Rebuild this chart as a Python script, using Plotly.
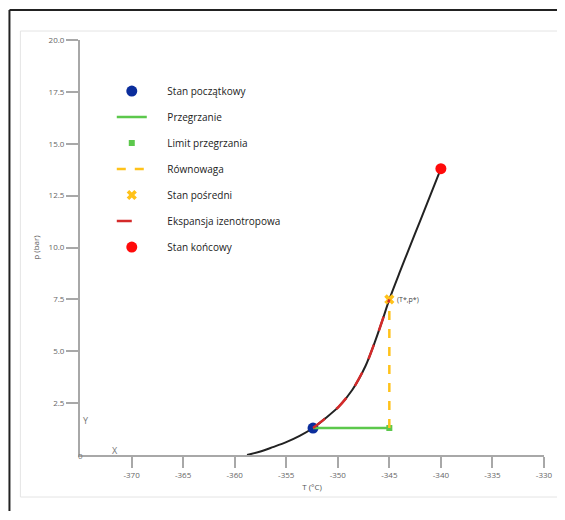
import plotly.graph_objects as go

# Saturation / process curve (T in °C, p in bar)
curve_T = [-358.8, -357.5, -356.3, -355.0, -353.7, -352.4, -351.2, -349.9, -348.6,
           -347.3, -346.4, -345.7, -345.0, -344.0, -343.0, -342.0, -341.0, -340.0]
curve_p = [0.0, 0.17, 0.38, 0.62, 0.92, 1.3, 1.77, 2.33, 3.13,
           4.3, 5.45, 6.45, 7.5, 8.8, 10.05, 11.3, 12.55, 13.8]

# Isentropic expansion section
exp_T = [-352.4, -351.2, -349.9, -348.6, -347.3, -346.4, -345.7, -345.0]
exp_p = [1.3, 1.77, 2.33, 3.13, 4.3, 5.45, 6.45, 7.5]

start_T, start_p = [-352.4], [1.3]
superheat_T, superheat_p = [-352.4, -345.0], [1.3, 1.3]
limit_T, limit_p = [-345.0], [1.3]
equil_T, equil_p = [-345.0, -345.0], [1.3, 7.5]
inter_T, inter_p = [-345.0], [7.5]
final_T, final_p = [-340.0], [13.8]

x_ticks = [-370, -365, -360, -355, -350, -345, -340, -335, -330]
x_ticktext = ["-370", "-365", "-360", "-355", "-350", "-345", "-340", "-335", "-330"]
y_ticks = [2.5, 5.0, 7.5, 10.0, 12.5, 15.0, 17.5, 20.0]
y_ticktext = ["2.5", "5.0", "7.5", "10.0", "12.5", "15.0", "17.5", "20.0"]

PAD = "\u00a0" * 6

fig = go.Figure()
fig.add_trace(go.Scatter(x=curve_T, y=curve_p, mode="lines",
                         line=dict(color="#222222", width=2, shape="spline", smoothing=0.8),
                         showlegend=False, hoverinfo="skip"))
fig.add_trace(go.Scatter(x=start_T, y=start_p, mode="markers", name=PAD + "Stan początkowy",
                         marker=dict(color="#0b2d9c", size=11), legendgroup="a"))
fig.add_trace(go.Scatter(x=superheat_T, y=superheat_p, mode="lines", name=PAD + "Przegrzanie",
                         line=dict(color="#5cc84c", width=2.5), legendgroup="b"))
fig.add_trace(go.Scatter(x=limit_T, y=limit_p, mode="markers", name=PAD + "Limit przegrzania",
                         marker=dict(color="#5cc84c", size=6, symbol="square"), legendgroup="c"))
fig.add_trace(go.Scatter(x=equil_T, y=equil_p, mode="lines", name=PAD + "Równowaga",
                         line=dict(color="#ffc21a", width=2.5, dash="dash"), legendgroup="d"))
fig.add_trace(go.Scatter(x=inter_T, y=inter_p, mode="markers", name=PAD + "Stan pośredni",
                         marker=dict(color="#ffc21a", size=9, symbol="x"), legendgroup="e"))
fig.add_trace(go.Scatter(x=exp_T, y=exp_p, mode="lines", name=PAD + "Ekspansja izenotropowa",
                         line=dict(color="#d42a2a", width=2.5, dash="longdash", shape="spline", smoothing=0.8),
                         legendgroup="f"))
fig.add_trace(go.Scatter(x=final_T, y=final_p, mode="markers", name=PAD + "Stan końcowy",
                         marker=dict(color="#ff0a0a", size=11), legendgroup="g"))

axis_gray = "#a8a8a8"
fig.update_layout(
    width=557, height=503, autosize=False,
    margin=dict(l=72, r=18, t=32, b=56),
    paper_bgcolor="white", plot_bgcolor="white",
    font=dict(family="Open Sans", size=8, color="#666666"),
    xaxis=dict(range=[-375, -330], tickvals=x_ticks, ticktext=x_ticktext, showgrid=False, zeroline=False,
               showline=True, linecolor=axis_gray, linewidth=2, ticks="outside", ticklen=11,
               tickcolor=axis_gray, tickwidth=2, tickfont=dict(size=8, color="#666666"),
               title=dict(text="T (°C)", font=dict(size=8, color="#555555"), standoff=6)),
    yaxis=dict(range=[0, 20], tickvals=y_ticks, ticktext=y_ticktext, showgrid=False, zeroline=False,
               showline=True, linecolor=axis_gray, linewidth=2, ticks="outside", ticklen=12,
               tickcolor=axis_gray, tickwidth=2, tickfont=dict(size=8, color="#666666"),
               title=dict(text="p (bar)", font=dict(size=8, color="#555555"), standoff=8)),
    legend=dict(x=0.0685, y=0.912, xanchor="left", yanchor="top", bgcolor="rgba(0,0,0,0)",
                font=dict(size=10, color="#222222"), itemwidth=30, tracegroupgap=7),
    showlegend=True,
)

fig.add_annotation(x=-345.0, y=7.5, text="(T*,p*)", showarrow=False, xanchor="left", xshift=6,
                   font=dict(size=7, color="#444444"))
fig.add_annotation(x=0.075, y=0.012, xref="paper", yref="paper", text="X", showarrow=False,
                   xanchor="center", yanchor="middle", font=dict(size=9, color="#777777"))
fig.add_annotation(x=0.013, y=0.084, xref="paper", yref="paper", text="Y", showarrow=False,
                   xanchor="center", yanchor="middle", font=dict(size=9, color="#777777"))
fig.add_annotation(x=0, y=0, xref="paper", yref="paper", text="0", showarrow=False,
                   xanchor="center", yanchor="middle", font=dict(size=8, color="#777777"))

# Outer frame and inner card (page pixels -> paper coords)
def px(xp):
    return (xp - 80) / 467.0
def py(yp):
    return (455 - yp) / 415.0

fig.add_shape(type="line", xref="paper", yref="paper", x0=px(9), x1=px(566), y0=py(10), y1=py(10),
              line=dict(color="#222222", width=2))
fig.add_shape(type="line", xref="paper", yref="paper", x0=px(9), x1=px(9), y0=py(10), y1=py(521),
              line=dict(color="#222222", width=2))
fig.add_shape(type="rect", xref="paper", yref="paper", x0=px(20), x1=px(564), y0=py(31), y1=py(497),
              line=dict(color="#e4e4e4", width=1), layer="below")

fig.write_html("out.html", config={"responsive": False})
